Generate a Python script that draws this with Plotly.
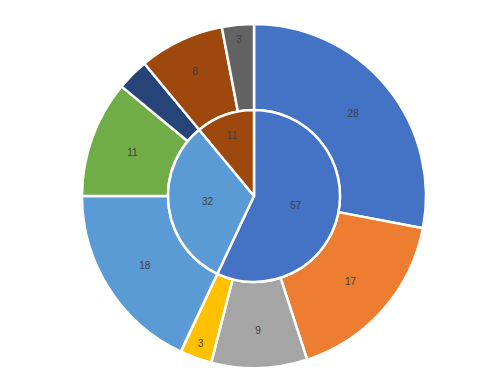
import plotly.graph_objects as go

inner_labels = ["A", "B", "C"]
inner_values = [57, 32, 11]
inner_colors = ["#4472C4", "#5B9BD5", "#9E480E"]

outer_labels = ["A1", "A2", "A3", "A4", "B1", "B2", "B3", "C1", "C2"]
outer_values = [28, 17, 9, 3, 18, 11, 3, 8, 3]
outer_colors = ["#4472C4", "#ED7D31", "#A5A5A5", "#FFC000", "#5B9BD5",
                "#70AD47", "#264478", "#9E480E", "#636363"]
outer_show = [True, True, True, True, True, True, False, True, True]

W, H = 494, 391
cx, cy = 246, 188
R_out, R_in = 172, 86

def dom(r):
    return dict(x=[(cx - r) / W, (cx + r) / W],
                y=[(H - cy - r) / H, (H - cy + r) / H])

outer_text = [str(v) if s else "" for v, s in zip(outer_values, outer_show)]

fig = go.Figure()
fig.add_trace(go.Pie(
    labels=outer_labels, values=outer_values, sort=False, direction="clockwise",
    rotation=0, hole=R_in / R_out, domain=dom(R_out),
    marker=dict(colors=outer_colors, line=dict(color="white", width=2.5)),
    text=outer_text, textinfo="text", textposition="inside",
    insidetextorientation="horizontal",
    textfont=dict(color="#404040", size=10, family="Liberation Sans"),
    showlegend=False, hoverinfo="label+value",
))
fig.add_trace(go.Pie(
    labels=inner_labels, values=inner_values, sort=False, direction="clockwise",
    rotation=0, domain=dom(R_in),
    marker=dict(colors=inner_colors, line=dict(color="white", width=2.5)),
    textinfo="value", textposition="inside", insidetextorientation="horizontal",
    textfont=dict(color="#404040", size=10, family="Liberation Sans"),
    showlegend=False, hoverinfo="label+value",
))
fig.update_layout(width=W, height=H, margin=dict(l=0, r=0, t=0, b=0),
                  paper_bgcolor="white", plot_bgcolor="white")
fig.write_html("out.html")
